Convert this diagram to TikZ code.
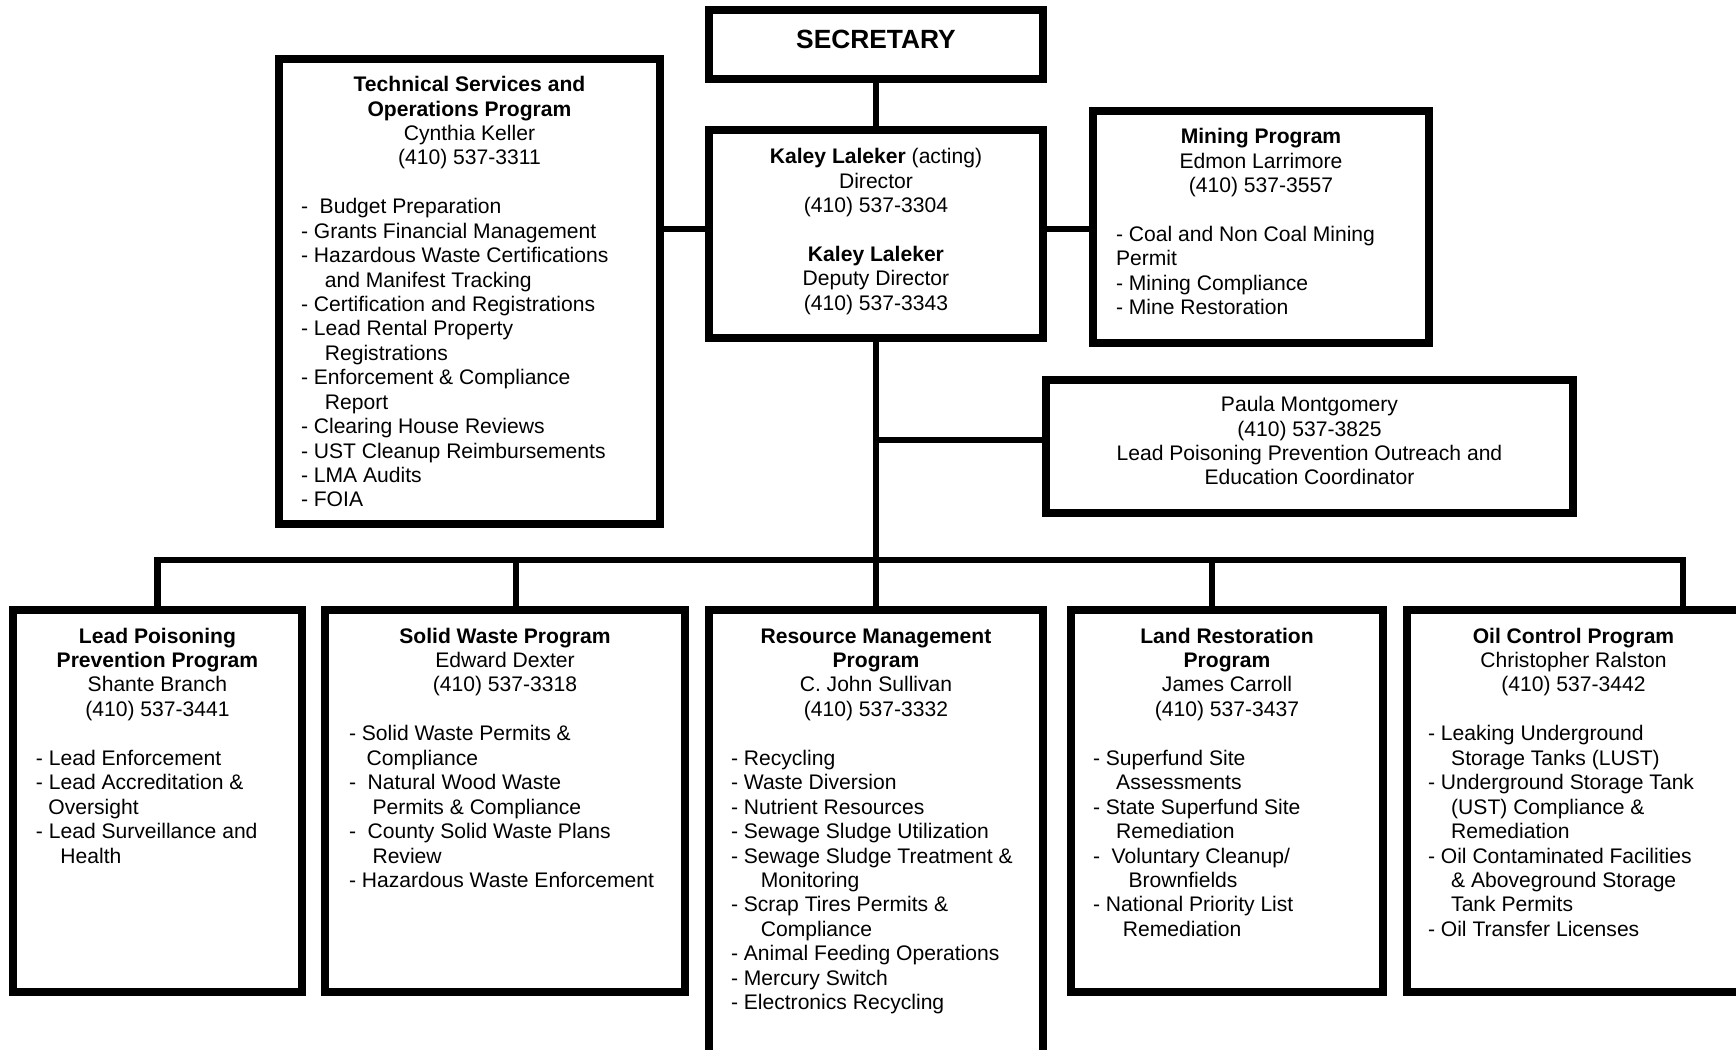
\documentclass[tikz,border=0pt]{standalone}
\usepackage{fontspec}
\setmainfont{Liberation Sans}
\usepackage{tikz}

\newcommand{\orgbox}[4]{\parbox[t][#2][t]{#1}{\vspace*{#3}#4}}
\newcommand{\duties}[2]{\par\vspace{14pt}\raggedright\leftskip=#1\relax #2\par}

\begin{document}
\begin{tikzpicture}[
  x=0.02cm, y=-0.02cm,
  every node/.style={font=\fontsize{12}{13.9}\selectfont},
  unit/.style={draw, rectangle, line width=0.16cm, inner sep=0pt,
  outer sep=0pt, anchor=north west},
  link/.style={draw, line width=0.13cm}
]
\clip (0,0) rectangle (1736,1050);

\node[unit] (sec) at (709,10) {\orgbox{6.68cm}{1.38cm}{0.35cm}{\centering
  \fontsize{15}{17}\selectfont\strut\textbf{SECRETARY}}};

\node[unit] (dir) at (709,130) {\orgbox{6.68cm}{4.16cm}{0.33cm}{\centering
  \strut\textbf{Kaley Laleker} (acting)\\ Director\\ (410) 537-3304\\[14pt]
  \textbf{Kaley Laleker}\\ Deputy Director\\ (410) 537-3343}};

\node[unit] (tech) at (279,59) {\orgbox{7.62cm}{9.3cm}{0.31cm}{\centering
  \strut\textbf{Technical Services and}\\ \textbf{Operations Program}\\
  Cynthia Keller\\ (410) 537-3311
  \duties{0.44cm}{-\ \ Budget Preparation\\
  - Grants Financial Management\\
  - Hazardous Waste Certifications\\
  \hspace*{13.6pt}and Manifest Tracking\\
  - Certification and Registrations\\
  - Lead Rental Property\\
  \hspace*{13.6pt}Registrations\\
  - Enforcement \& Compliance\\
  \hspace*{13.6pt}Report\\
  - Clearing House Reviews\\
  - UST Cleanup Reimbursements\\
  - LMA Audits\\
  - FOIA}}};

\node[unit] (mine) at (1093,111) {\orgbox{6.72cm}{4.64cm}{0.31cm}{\centering
  \strut\textbf{Mining Program}\\ Edmon Larrimore\\ (410) 537-3557
  \duties{0.46cm}{- Coal and Non Coal Mining\\
  Permit\\
  - Mining Compliance\\
  - Mine Restoration}}};

\node[unit] (paula) at (1046,380) {\orgbox{10.54cm}{2.66cm}{0.29cm}{\centering
  \strut Paula Montgomery\\ (410) 537-3825\\
  Lead Poisoning Prevention Outreach and\\ Education Coordinator}};

\node[unit] (lead) at (13,610) {\orgbox{5.78cm}{7.64cm}{0.32cm}{\centering
  \strut\textbf{Lead Poisoning}\\ \textbf{Prevention Program}\\
  Shante Branch\\ (410) 537-3441
  \duties{0.46cm}{- Lead Enforcement\\
  - Lead Accreditation \&\\
  \hspace*{7.1pt}Oversight\\
  - Lead Surveillance and\\
  \hspace*{13.9pt}Health}}};

\node[unit] (solid) at (325,610) {\orgbox{7.2cm}{7.64cm}{0.32cm}{\centering
  \strut\textbf{Solid Waste Program}\\ Edward Dexter\\ (410) 537-3318
  \duties{0.48cm}{- Solid Waste Permits \&\\
  \hspace*{10.1pt}Compliance\\
  -\ \ Natural Wood Waste\\
  \hspace*{13.4pt}Permits \& Compliance\\
  -\ \ County Solid Waste Plans\\
  \hspace*{13.4pt}Review\\
  - Hazardous Waste Enforcement}}};

\node[unit] (res) at (709,610) {\orgbox{6.68cm}{9.0cm}{0.32cm}{\centering
  \strut\textbf{Resource Management}\\ \textbf{Program}\\
  C. John Sullivan\\ (410) 537-3332
  \duties{0.44cm}{- Recycling\\
  - Waste Diversion\\
  - Nutrient Resources\\
  - Sewage Sludge Utilization\\
  - Sewage Sludge Treatment \&\\
  \hspace*{17pt}Monitoring\\
  - Scrap Tires Permits \&\\
  \hspace*{17pt}Compliance\\
  - Animal Feeding Operations\\
  - Mercury Switch\\
  - Electronics Recycling}}};

\node[unit] (land) at (1071,610) {\orgbox{6.24cm}{7.64cm}{0.32cm}{\centering
  \strut\textbf{Land Restoration}\\ \textbf{Program}\\
  James Carroll\\ (410) 537-3437
  \duties{0.44cm}{- Superfund Site\\
  \hspace*{13.2pt}Assessments\\
  - State Superfund Site\\
  \hspace*{13.2pt}Remediation\\
  -\ \ Voluntary Cleanup/\\
  \hspace*{20.2pt}Brownfields\\
  - National Priority List\\
  \hspace*{17pt}Remediation}}};

\node[unit] (oil) at (1407,610) {\orgbox{6.66cm}{7.64cm}{0.32cm}{\centering
  \strut\textbf{Oil Control Program}\\ Christopher Ralston\\ (410) 537-3442
  \duties{0.42cm}{- Leaking Underground\\
  \hspace*{13.2pt}Storage Tanks (LUST)\\
  - Underground Storage Tank\\
  \hspace*{13.2pt}(UST) Compliance \&\\
  \hspace*{13.2pt}Remediation\\
  - Oil Contaminated Facilities\\
  \hspace*{13.2pt}\& Aboveground Storage\\
  \hspace*{13.2pt}Tank Permits\\
  - Oil Transfer Licenses}}};

\path (dir.south) ++(0,222) coordinate (bus);

\draw[link] (sec.south) -- (dir.north);
\draw[link] ([yshift=0.1cm]dir.west) -- ([yshift=0.1cm]dir.west -| tech.east);
\draw[link] ([yshift=0.1cm]dir.east) -- ([yshift=0.1cm]dir.east -| mine.west);
\draw[link] (dir.south) -- (bus);
\draw[link] ([yshift=0.13cm]paula.west) -- ([yshift=0.13cm]paula.west -| dir.south);
\draw[link] (lead.north) |- (bus) -| ([xshift=2.19cm]oil.north);
\draw[link] ([xshift=0.22cm]solid.north) -- ++(0,-50);
\draw[link] (res.north) -- (bus);
\draw[link] ([xshift=-0.3cm]land.north) -- ++(0,-50);

\end{tikzpicture}
\end{document}
